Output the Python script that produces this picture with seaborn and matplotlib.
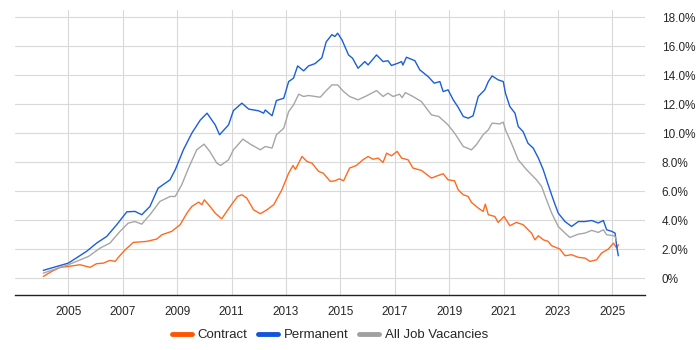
import pandas as pd
import matplotlib
matplotlib.use("Agg")
import matplotlib.pyplot as plt
import seaborn as sns
from matplotlib.ticker import FuncFormatter, MultipleLocator

# Datos (año, % de ofertas)
contract_year = [2004.08, 2004.39, 2004.7, 2005.0, 2005.43, 2005.8, 2006.04, 2006.29, 2006.53, 2006.72,
                 2006.9, 2007.09, 2007.39, 2007.88, 2008.25, 2008.44, 2008.8, 2009.11, 2009.36, 2009.54,
                 2009.79, 2009.91, 2010.0, 2010.21, 2010.4, 2010.64, 2010.95, 2011.22, 2011.38, 2011.56,
                 2011.81, 2012.06, 2012.3, 2012.55, 2012.67, 2012.85, 2013.1, 2013.26, 2013.35, 2013.59,
                 2013.77, 2013.96, 2014.2, 2014.37, 2014.63, 2014.8, 2014.96, 2015.12, 2015.34, 2015.59,
                 2015.83, 2016.02, 2016.2, 2016.39, 2016.57, 2016.7, 2016.88, 2017.09, 2017.25, 2017.49,
                 2017.67, 2017.98, 2018.35, 2018.6, 2018.78, 2018.96, 2019.2, 2019.33, 2019.52, 2019.7,
                 2019.82, 2020.07, 2020.25, 2020.33, 2020.44, 2020.68, 2020.8, 2021.02, 2021.23, 2021.47,
                 2021.72, 2022.03, 2022.15, 2022.28, 2022.46, 2022.64, 2022.77, 2023.07, 2023.26, 2023.5,
                 2023.75, 2023.99, 2024.18, 2024.42, 2024.6, 2024.85, 2025.04, 2025.16, 2025.22]
contract_pct = [0.11, 0.46, 0.74, 0.8, 0.92, 0.74, 0.99, 1.03, 1.22, 1.15,
                1.56, 1.95, 2.46, 2.53, 2.69, 2.99, 3.22, 3.68, 4.48, 4.94,
                5.24, 5.06, 5.4, 4.94, 4.48, 4.09, 4.94, 5.63, 5.75, 5.52,
                4.71, 4.44, 4.71, 5.06, 5.47, 6.09, 7.24, 7.77, 7.5, 8.39,
                8.05, 7.93, 7.36, 7.24, 6.67, 6.71, 6.85, 6.71, 7.59, 7.77,
                8.16, 8.39, 8.2, 8.28, 7.98, 8.62, 8.44, 8.74, 8.28, 8.16,
                7.59, 7.43, 6.9, 7.08, 7.2, 6.78, 6.71, 6.09, 5.75, 5.63,
                5.22, 4.83, 4.6, 5.1, 4.37, 4.25, 3.84, 4.25, 3.61, 3.84,
                3.68, 3.1, 2.64, 2.92, 2.64, 2.53, 2.23, 2.0, 1.54, 1.61,
                1.43, 1.38, 1.15, 1.26, 1.72, 2.0, 2.41, 2.07, 2.3]

perm_year = [2004.08, 2005.0, 2005.67, 2006.04, 2006.41, 2006.78, 2007.15, 2007.45, 2007.7, 2008.0,
             2008.3, 2008.74, 2008.93, 2009.23, 2009.54, 2009.85, 2010.1, 2010.4, 2010.56, 2010.89,
             2011.07, 2011.38, 2011.63, 2012.0, 2012.18, 2012.24, 2012.49, 2012.65, 2012.92, 2013.1,
             2013.28, 2013.43, 2013.65, 2013.83, 2014.07, 2014.32, 2014.48, 2014.69, 2014.8, 2014.9,
             2015.06, 2015.3, 2015.45, 2015.65, 2015.9, 2016.02, 2016.33, 2016.57, 2016.75, 2016.88,
             2017.12, 2017.25, 2017.3, 2017.43, 2017.74, 2017.92, 2018.23, 2018.45, 2018.66, 2018.78,
             2018.96, 2019.15, 2019.33, 2019.52, 2019.7, 2019.88, 2020.07, 2020.31, 2020.44, 2020.58,
             2020.8, 2020.99, 2021.07, 2021.23, 2021.42, 2021.54, 2021.72, 2021.9, 2022.09, 2022.28,
             2022.46, 2022.64, 2022.83, 2023.01, 2023.26, 2023.5, 2023.75, 2023.99, 2024.24, 2024.48,
             2024.67, 2024.79, 2024.98, 2025.1, 2025.16, 2025.22]
perm_pct = [0.53, 1.03, 1.84, 2.41, 2.87, 3.68, 4.57, 4.6, 4.37, 4.94,
            6.2, 6.78, 7.47, 8.85, 10.0, 10.9, 11.38, 10.57, 9.89, 10.57,
            11.56, 12.07, 11.66, 11.54, 11.38, 11.6, 11.2, 12.25, 12.41, 13.56,
            13.8, 14.64, 14.3, 14.64, 14.8, 15.2, 16.3, 16.8, 16.67, 16.9,
            16.44, 15.4, 15.17, 14.48, 14.94, 14.71, 15.4, 14.94, 15.0, 14.67,
            14.83, 14.94, 14.7, 15.24, 15.0, 14.37, 13.9, 13.45, 13.56, 12.87,
            12.99, 12.3, 11.79, 11.15, 11.03, 11.2, 12.53, 12.99, 13.56, 13.95,
            13.68, 13.56, 12.76, 11.84, 11.38, 10.46, 10.1, 9.3, 8.97, 8.28,
            7.47, 6.44, 5.4, 4.48, 3.9, 3.56, 3.9, 3.9, 3.97, 3.8,
            3.97, 3.33, 3.22, 3.1, 2.18, 1.54]

all_year = [2004.08, 2005.0, 2005.74, 2006.17, 2006.53, 2006.9, 2007.2, 2007.45, 2007.7, 2008.0,
            2008.37, 2008.74, 2008.93, 2009.17, 2009.42, 2009.72, 2009.99, 2010.2, 2010.46, 2010.6,
            2010.89, 2011.07, 2011.42, 2011.69, 2012.06, 2012.24, 2012.49, 2012.65, 2012.92, 2013.1,
            2013.28, 2013.47, 2013.65, 2013.83, 2014.26, 2014.45, 2014.69, 2014.9, 2015.12, 2015.34,
            2015.65, 2015.96, 2016.33, 2016.57, 2016.75, 2016.94, 2017.18, 2017.27, 2017.39, 2017.67,
            2017.98, 2018.35, 2018.62, 2018.96, 2019.2, 2019.52, 2019.82, 2020.0, 2020.25, 2020.44,
            2020.58, 2020.86, 2020.99, 2021.07, 2021.29, 2021.54, 2021.85, 2022.21, 2022.4, 2022.58,
            2022.77, 2023.01, 2023.26, 2023.44, 2023.75, 2023.99, 2024.24, 2024.48, 2024.67, 2024.79,
            2025.04, 2025.1, 2025.15]
all_pct = [0.34, 0.92, 1.49, 2.07, 2.41, 3.22, 3.79, 3.9, 3.72, 4.37,
           5.29, 5.63, 5.63, 6.44, 7.59, 8.85, 9.24, 8.74, 7.93, 7.77,
           8.16, 8.85, 9.59, 9.24, 8.85, 9.08, 8.97, 9.89, 10.34, 11.49,
           11.95, 12.69, 12.53, 12.6, 12.48, 12.87, 13.33, 13.33, 12.87, 12.53,
           12.3, 12.57, 12.94, 12.53, 12.76, 12.53, 12.69, 12.45, 12.8, 12.53,
           12.18, 11.26, 11.15, 10.57, 10.0, 9.08, 8.85, 9.2, 9.89, 10.23,
           10.69, 10.64, 10.76, 10.23, 9.31, 8.16, 7.47, 6.78, 6.32, 5.4,
           4.48, 3.56, 3.1, 2.8, 3.03, 3.1, 3.29, 3.15, 3.33, 2.99,
           2.92, 2.87, 2.6]

series_names = ["Contract", "Permanent", "All Job Vacancies"]
series_colors = ["#ff6a1f", "#1a5fd8", "#a6a6a6"]
year_ticks = list(range(2005, 2026, 2))

df = pd.concat([
    pd.DataFrame({"year": contract_year, "pct": contract_pct, "serie": "Contract"}),
    pd.DataFrame({"year": perm_year, "pct": perm_pct, "serie": "Permanent"}),
    pd.DataFrame({"year": all_year, "pct": all_pct, "serie": "All Job Vacancies"}),
])

sns.set_style("white")
plt.rcParams["font.family"] = ["Liberation Sans", "DejaVu Sans"]

fig = plt.figure(figsize=(7, 3.5), dpi=100)
ax = fig.add_axes([15 / 700, 55 / 350, 630 / 700, 285 / 350])

sns.lineplot(data=df, x="year", y="pct", hue="serie", hue_order=series_names,
             palette=dict(zip(series_names, series_colors)), linewidth=1,
             estimator=None, sort=False, legend=False, ax=ax)

ax.set_xlim(2003.04, 2026.2)
ax.set_ylim(-1.17, 18.5)
ax.set_xticks(year_ticks)
ax.yaxis.set_major_locator(MultipleLocator(2))
ax.yaxis.set_major_formatter(FuncFormatter(lambda v, p: "0%" if abs(v) < 1e-9 else f"{v:.1f}%"))
ax.yaxis.tick_right()
ax.set_xlabel("")
ax.set_ylabel("")

ax.grid(True, color="#d9d9d9", linewidth=0.8)
ax.set_axisbelow(True)
for side in ["top", "left", "right"]:
    ax.spines[side].set_visible(False)
ax.spines["bottom"].set_color("#222222")
ax.spines["bottom"].set_linewidth(1)
ax.tick_params(axis="x", length=5, width=1, color="#222222", labelsize=8.5, pad=3)
ax.tick_params(axis="y", length=0, labelsize=8.5, pad=12)

handles = [plt.Line2D([], [], color=c, linewidth=3.5) for c in ["#ff5500", "#1155dd", "#a0a0a0"]]
fig.legend(handles, series_names, loc="center", bbox_to_anchor=(330 / 700, 1 - 335 / 350),
           ncol=3, frameon=False, fontsize=9.5, handlelength=1.5, columnspacing=0.8,
           handletextpad=0.45)

fig.savefig("out.png", dpi=100)
plt.close(fig)
